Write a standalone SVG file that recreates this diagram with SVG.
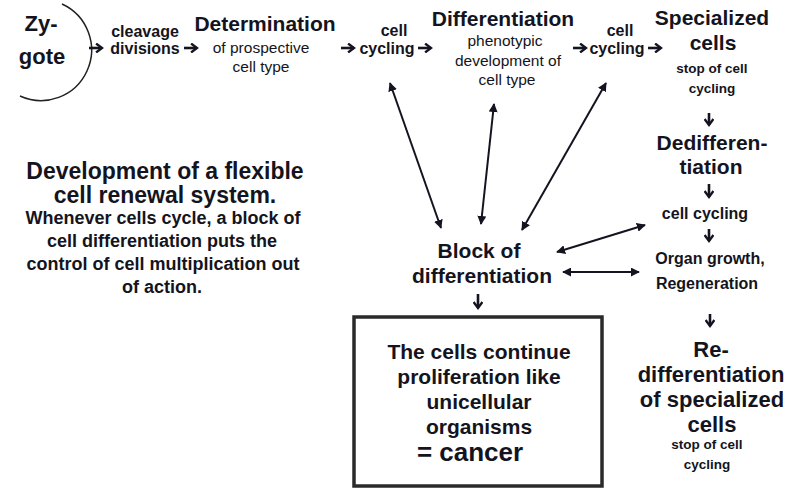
<svg xmlns="http://www.w3.org/2000/svg" width="786" height="488" viewBox="0 0 786 488">
<style>
text{font-family:"Liberation Sans",Arial,sans-serif;fill:#141420;text-anchor:middle}
.b20{font-size:21px;font-weight:bold}
.b22{font-size:22px;font-weight:bold}
.b23{font-size:23px;font-weight:bold}
.b16{font-size:16px;font-weight:bold}
.b13{font-size:13.5px;font-weight:bold}
.b18{font-size:18px;font-weight:bold}
.n15{font-size:15.5px}
.sa{stroke:#141420;stroke-width:2.6;fill:none;marker-end:url(#sh)}
.la{stroke:#141420;stroke-width:2;fill:none;marker-end:url(#lh);marker-start:url(#lh)}
</style>
<defs>
<marker id="sh" viewBox="0 0 10 10" refX="8" refY="5" markerWidth="3.8" markerHeight="3.8" orient="auto" markerUnits="strokeWidth">
<path d="M2,0.5 L8,5 L2,9.5" fill="none" stroke="#141420" stroke-width="2.4"/>
</marker>
<marker id="lh" viewBox="0 0 10 10" refX="9" refY="5" markerWidth="4.5" markerHeight="4.5" orient="auto-start-reverse" markerUnits="strokeWidth">
<path d="M0,0 L10,5 L0,10 z" fill="#141420"/>
</marker>
</defs>
<rect width="786" height="488" fill="#fff"/>

<g id="zygote">
<path d="M62,4 A47,47 0 0 1 20,96" fill="none" stroke="#222" stroke-width="1.5"/>
<text class="b22" x="41" y="31">Zy-</text>
<text class="b22" x="42" y="64">gote</text>
</g>
<g id="cleavage">
<text class="b16" x="145" y="37">cleavage</text>
<text class="b16" x="145" y="54">divisions</text>
</g>
<g id="determination">
<text class="b20" x="265" y="31">Determination</text>
<text class="n15" x="261" y="53">of prospective</text>
<text class="n15" x="261" y="72">cell type</text>
</g>
<g id="cellcycling1">
<text class="b16" x="394" y="36">cell</text>
<text class="b16" x="387" y="54">cycling</text>
</g>
<g id="differentiation">
<text class="b20" x="503" y="26">Differentiation</text>
<text class="n15" x="505" y="46">phenotypic</text>
<text class="n15" x="508" y="66">development of</text>
<text class="n15" x="507" y="85">cell type</text>
</g>
<g id="cellcycling2">
<text class="b16" x="620" y="36">cell</text>
<text class="b16" x="617" y="54">cycling</text>
</g>
<g id="specialized">
<text class="b20" x="712" y="25">Specialized</text>
<text class="b20" x="713" y="50">cells</text>
<text class="b13" x="712" y="73">stop of cell</text>
<text class="b13" x="712" y="93">cycling</text>
</g>
<g id="dedifferentiation">
<text class="b20" x="712" y="150">Dedifferen-</text>
<text class="b20" x="711" y="174">tiation</text>
</g>
<g id="cellcycling3">
<text class="b16" x="705" y="219">cell cycling</text>
</g>
<g id="organgrowth">
<text class="b16" x="710" y="264">Organ growth,</text>
<text class="b16" x="707" y="289">Regeneration</text>
</g>
<g id="redifferentiation">
<text class="b22" x="711" y="357">Re-</text>
<text class="b22" x="711" y="382">differentiation</text>
<text class="b22" x="712" y="407">of specialized</text>
<text class="b22" x="712" y="432">cells</text>
<text class="b13" x="707" y="449">stop of cell</text>
<text class="b13" x="707" y="469">cycling</text>
</g>
<g id="development">
<text class="b23" x="165" y="179">Development of a flexible</text>
<text class="b23" x="165" y="203">cell renewal system.</text>
<text class="b18" x="163" y="224">Whenever cells cycle, a block of</text>
<text class="b18" x="162" y="247">cell differentiation puts the</text>
<text class="b18" x="163" y="270">control of cell multiplication out</text>
<text class="b18" x="162" y="293">of action.</text>
</g>
<g id="block">
<text class="b20" x="479" y="258">Block of</text>
<text class="b20" x="482" y="283">differentiation</text>
</g>
<g id="cancer">
<rect x="354" y="317" width="248" height="169" fill="none" stroke="#2a2a2a" stroke-width="3.5"/>
<text class="b20" x="479" y="359">The cells continue</text>
<text class="b20" x="479" y="384">proliferation like</text>
<text class="b20" x="479" y="409">unicellular</text>
<text class="b20" x="479" y="434">organisms</text>
<text class="b20" x="470" y="461" style="font-size:26px">= cancer</text>
</g>
<g id="connectors">
<path class="sa" d="M89,48 H102"/>
<path class="sa" d="M184,48 H197"/>
<path class="sa" d="M341,48 H354"/>
<path class="sa" d="M418,48 H431"/>
<path class="sa" d="M573,48 H586"/>
<path class="sa" d="M648,48 H661"/>
<path class="sa" d="M709,113 V125"/>
<path class="sa" d="M709,184 V197"/>
<path class="sa" d="M709,229 V241"/>
<path class="sa" d="M710,314 V326"/>
<path class="sa" d="M478,294 V308"/>
<path class="la" d="M390,83 L441,228"/>
<path class="la" d="M494,104 L481,224"/>
<path class="la" d="M606,83 L522,230"/>
<path class="la" d="M557,252 L645,225"/>
<path class="la" d="M563,272 L639,272"/>
</g>
</svg>
